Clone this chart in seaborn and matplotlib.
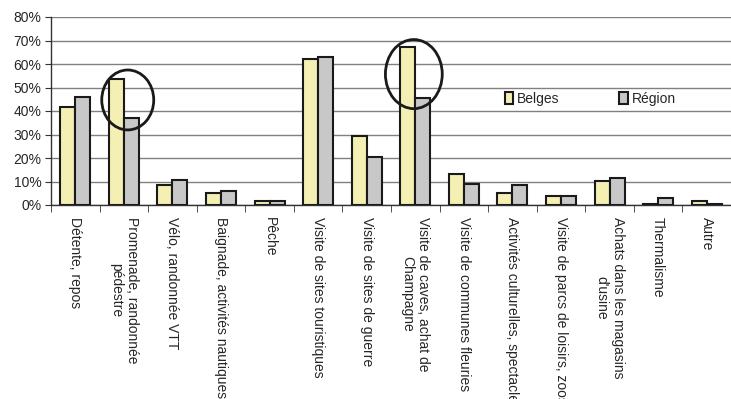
import pandas as pd
import matplotlib.pyplot as plt
import seaborn as sns
from matplotlib.patches import Ellipse
from matplotlib.ticker import PercentFormatter, FixedLocator

# données
activites = [
    'Détente, repos',
    'Promenade, randonnée\npédestre',
    'Vélo, randonnée VTT',
    'Baignade, activités nautiques',
    'Pêche',
    'Visite de sites touristiques',
    'Visite de sites de guerre',
    'Visite de caves, achat de\nChampagne',
    'Visite de communes fleuries',
    'Activités culturelles, spectacles',
    'Visite de parcs de loisirs, zoos',
    'Achats dans les magasins\nd\'usine',
    'Thermalisme',
    'Autre',
]
belges = [41.6, 53.5, 8.4, 5.0, 1.8, 62.3, 29.2, 67.4, 13.0, 5.0, 3.7, 10.1, 0.3, 1.5]
region = [46.1, 36.9, 10.5, 5.8, 1.8, 62.8, 20.3, 45.7, 8.8, 8.4, 3.7, 11.4, 2.8, 0.3]
groupes = ['Belges', 'Région']
couleurs = ['#FFF8A8', '#C8C8C8']
y_ticks = [0, 10, 20, 30, 40, 50, 60, 70, 80]

df = pd.DataFrame({
    'Activité': activites * 2,
    'Groupe': [groupes[0]] * len(activites) + [groupes[1]] * len(activites),
    'Valeur': belges + region,
})

sns.set_style('white')
plt.rcParams['font.family'] = ['Liberation Sans', 'DejaVu Sans']

fig = plt.figure(figsize=(7.31, 3.99), dpi=100)
ax = fig.add_axes([51 / 731, 1 - 205 / 399, 680 / 731, 188 / 399])

sns.barplot(data=df, x='Activité', y='Valeur', hue='Groupe', palette=couleurs,
            width=0.62, edgecolor='#1a1a1a', linewidth=1.5, ax=ax, zorder=3)

ax.set_ylim(0, 80)
ax.set_xlim(-0.5, len(activites) - 0.5)
ax.yaxis.set_major_locator(FixedLocator(y_ticks))
ax.yaxis.set_major_formatter(PercentFormatter(decimals=0))
ax.grid(axis='y', color='#808080', linewidth=1.0, zorder=0)
ax.set_xlabel('')
ax.set_ylabel('')

for s in ['top', 'right']:
    ax.spines[s].set_visible(False)
for s in ['left', 'bottom']:
    ax.spines[s].set_color('#333333')
    ax.spines[s].set_linewidth(1.0)

ax.tick_params(axis='y', left=True, length=4, color='#333333', labelsize=10, pad=3)
ax.tick_params(axis='x', which='major', bottom=False, labelsize=10, pad=5)
ax.set_xticks([i - 0.5 for i in range(len(activites) + 1)], minor=True)
ax.tick_params(axis='x', which='minor', bottom=True, length=5, color='#333333')
ax.set_xticks(range(len(activites)))
ax.set_xticklabels(activites, rotation=270, ha='center', va='top',
                   multialignment='center')

# cercles d'annotation
for i, yc, w, h in [(1.08, 44.7, 1.07, 25.5), (6.97, 55.7, 1.17, 29.4)]:
    ax.add_patch(Ellipse((i, yc), w, h, fill=False, edgecolor='#1a1a1a',
                         linewidth=2, zorder=5, clip_on=False))

leg = ax.legend(loc='center', bbox_to_anchor=(0.793, 0.564), ncol=2, frameon=False,
                handlelength=0.6, handleheight=1.0, handletextpad=0.3,
                columnspacing=4.3, fontsize=10)

plt.savefig('out.png', dpi=100)
